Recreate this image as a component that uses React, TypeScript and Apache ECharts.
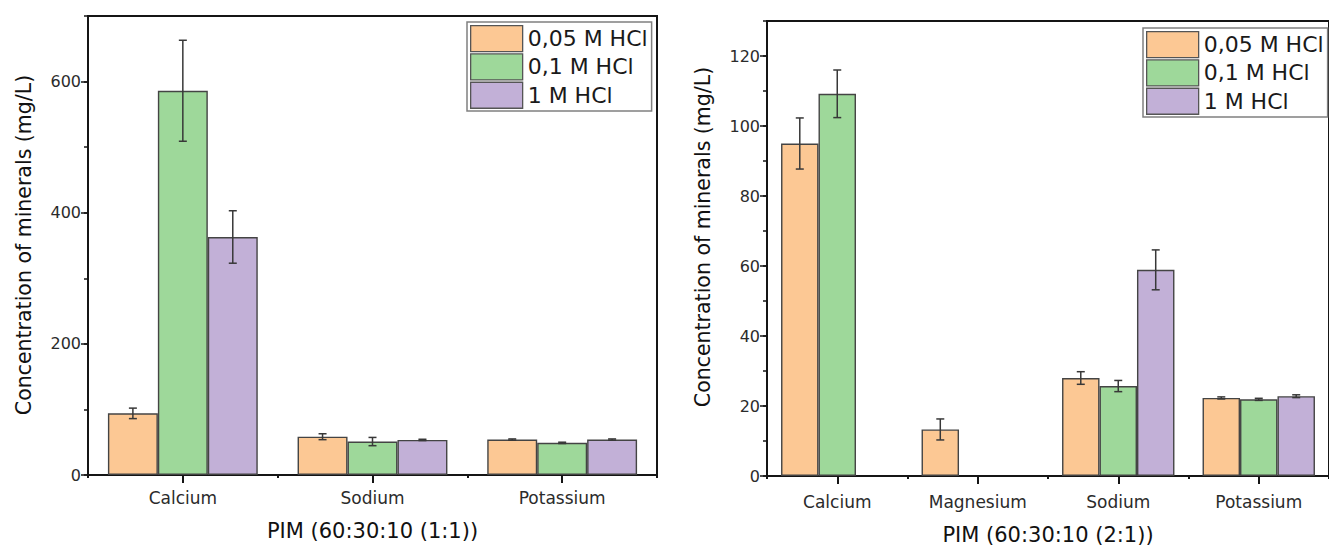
import React, { useEffect, useRef } from 'react';
import * as echarts from 'echarts';

const seriesNames = ['0,05 M HCl', '0,1 M HCl', '1 M HCl'];
const barColors = ['#FCC894', '#9ED89A', '#C2B0D7'];

const leftCategories = ['Calcium', 'Sodium', 'Potassium'];
const left005 = [94, 58.4, 54];
const left005Err = [8, 4.5, 1];
const left01 = [586, 51, 49];
const left01Err = [77, 6.3, 1];
const left1 = [363, 53.5, 54];
const left1Err = [40, 1, 1];

const rightCategories = ['Calcium', 'Magnesium', 'Sodium', 'Potassium'];
const right005 = [95, 13.3, 28, 22.3];
const right005Err = [7.3, 3, 1.8, 0.3];
const right01 = [109.2, null, 25.7, 21.9];
const right01Err = [6.8, null, 1.6, 0.3];
const right1 = [null, null, 58.9, 22.8];
const right1Err = [null, null, 5.7, 0.4];

const leftYTicks = { max: 700, major: 200, minor: 100 };
const rightYTicks = { max: 130, major: 20, minor: 10 };

const leftXTitle = 'PIM (60:30:10 (1:1))';
const rightXTitle = 'PIM (60:30:10 (2:1))';
const yTitle = 'Concentration of minerals (mg/L)';

const FONT = 'DejaVu Sans, Liberation Sans, Arial, sans-serif';
const AXIS_COLOR = '#151515';
const TEXT_COLOR = '#2b2b2b';

function errorSeries(
  name: string,
  k: number,
  vals: (number | null)[],
  errs: (number | null)[],
  gap: number,
  xi: number,
  yi: number
) {
  const data: number[][] = [];
  vals.forEach((v, i) => {
    if (v != null && errs[i] != null) data.push([i, v, errs[i] as number]);
  });
  return {
    type: 'custom',
    name,
    xAxisIndex: xi,
    yAxisIndex: yi,
    z: 5,
    silent: true,
    data,
    renderItem: (params: any, api: any) => {
      const ci = api.value(0);
      const v = api.value(1);
      const e = api.value(2);
      const c = api.coord([ci, v]);
      const band = api.size([1, 0])[0];
      const bw = (band * (1 - gap)) / 3;
      const cx = c[0] + (k - 1) * bw;
      const yt = api.coord([ci, v + e])[1];
      const yb = api.coord([ci, v - e])[1];
      const hw = 4;
      const st = { stroke: '#383838', lineWidth: 1.5 };
      return {
        type: 'group',
        children: [
          { type: 'line', shape: { x1: cx, y1: yt, x2: cx, y2: yb }, style: st },
          { type: 'line', shape: { x1: cx - hw, y1: yt, x2: cx + hw, y2: yt }, style: st },
          { type: 'line', shape: { x1: cx - hw, y1: yb, x2: cx + hw, y2: yb }, style: st },
        ],
      };
    },
  };
}

function barSeries(name: string, k: number, vals: (number | null)[], gap: number, xi: number, yi: number) {
  return {
    type: 'bar',
    name,
    xAxisIndex: xi,
    yAxisIndex: yi,
    barGap: '0%',
    barCategoryGap: `${gap * 100}%`,
    data: vals.map((v) => (v == null ? '-' : v)),
    itemStyle: { color: barColors[k], borderColor: '#444', borderWidth: 1.4 },
  };
}

function xAxes(cats: string[], grid: number, margin: number, title: string, nameGap: number) {
  return [
    {
      type: 'category',
      gridIndex: grid,
      data: cats,
      position: 'bottom',
      name: title,
      nameLocation: 'middle',
      nameGap,
      nameTextStyle: { fontFamily: FONT, fontSize: 21, color: '#111' },
      axisLine: { show: true, lineStyle: { color: AXIS_COLOR, width: 2 } },
      axisTick: { show: true, alignWithLabel: true, length: 8, lineStyle: { color: AXIS_COLOR, width: 2 } },
      axisLabel: { fontFamily: FONT, fontSize: 17, color: TEXT_COLOR, margin },
      splitLine: { show: false },
    },
    {
      type: 'category',
      gridIndex: grid,
      data: cats,
      position: 'bottom',
      offset: 0,
      axisLine: { show: false },
      axisTick: { show: true, alignWithLabel: false, length: 3, lineStyle: { color: AXIS_COLOR, width: 2 } },
      axisLabel: { show: false },
      splitLine: { show: false },
    },
  ];
}

function yAxes(t: { max: number; major: number; minor: number }, grid: number) {
  return [
    {
      type: 'value',
      gridIndex: grid,
      min: 0,
      max: t.max,
      interval: t.major,
      position: 'left',
      axisLine: { show: true, lineStyle: { color: AXIS_COLOR, width: 2 } },
      axisTick: { show: true, inside: false, length: 7, lineStyle: { color: AXIS_COLOR, width: 1.5 } },
      axisLabel: { fontFamily: FONT, fontSize: 16, color: TEXT_COLOR, margin: 7, showMaxLabel: false },
      splitLine: { show: false },
    },
    {
      type: 'value',
      gridIndex: grid,
      min: 0,
      max: t.max,
      interval: t.minor,
      position: 'left',
      offset: 0,
      axisLine: { show: false },
      axisTick: { show: true, inside: false, length: 4, lineStyle: { color: AXIS_COLOR, width: 1.5 } },
      axisLabel: { show: false },
      splitLine: { show: false },
    },
  ];
}

function legend(left: number, top: number) {
  return {
    orient: 'vertical',
    left,
    top,
    data: seriesNames,
    icon: 'rect',
    itemWidth: 52,
    itemHeight: 26,
    itemGap: 1,
    padding: [3, 4, 2, 3],
    borderColor: '#808080',
    borderWidth: 1.5,
    backgroundColor: '#fff',
    itemStyle: { borderColor: '#555', borderWidth: 1.3 },
    textStyle: { fontFamily: FONT, fontSize: 22, color: '#1a1a1a' },
    selectedMode: false,
  };
}

function yTitleText(x: number, y: number) {
  return {
    type: 'text',
    x,
    y,
    rotation: Math.PI / 2,
    style: {
      text: yTitle,
      font: `20.5px ${FONT}`,
      fill: '#111',
      align: 'center',
      verticalAlign: 'middle',
    },
  };
}

export default function App() {
  const ref = useRef<HTMLDivElement>(null);
  useEffect(() => {
    if (!ref.current) return;
    const chart = echarts.init(ref.current, null, { renderer: 'svg' });
    const gapL = 0.21;
    const gapR = 0.2;
    const option: any = {
      animation: false,
      backgroundColor: '#fff',
      grid: [
        { left: 88, top: 16, width: 569, height: 459, show: true, borderColor: AXIS_COLOR, borderWidth: 2, backgroundColor: 'transparent' },
        { left: 767, top: 21, width: 567, height: 459, show: true, borderColor: AXIS_COLOR, borderWidth: 2, backgroundColor: 'transparent' },
      ],
      xAxis: [
        ...xAxes(leftCategories, 0, 14, leftXTitle, 45),
        ...xAxes(rightCategories, 1, 17, rightXTitle, 48),
      ],
      yAxis: [...yAxes(leftYTicks, 0), ...yAxes(rightYTicks, 1)],
      legend: [legend(467, 22), legend(1143, 28)],
      graphic: [yTitleText(24, 245), yTitleText(703, 237)],
      series: [
        barSeries(seriesNames[0], 0, left005, gapL, 0, 0),
        barSeries(seriesNames[1], 1, left01, gapL, 0, 0),
        barSeries(seriesNames[2], 2, left1, gapL, 0, 0),
        errorSeries(seriesNames[0], 0, left005, left005Err, gapL, 0, 0),
        errorSeries(seriesNames[1], 1, left01, left01Err, gapL, 0, 0),
        errorSeries(seriesNames[2], 2, left1, left1Err, gapL, 0, 0),
        barSeries(seriesNames[0], 0, right005, gapR, 2, 2),
        barSeries(seriesNames[1], 1, right01, gapR, 2, 2),
        barSeries(seriesNames[2], 2, right1, gapR, 2, 2),
        errorSeries(seriesNames[0], 0, right005, right005Err, gapR, 2, 2),
        errorSeries(seriesNames[1], 1, right01, right01Err, gapR, 2, 2),
        errorSeries(seriesNames[2], 2, right1, right1Err, gapR, 2, 2),
      ],
    };
    chart.setOption(option);
    return () => chart.dispose();
  }, []);
  return (
    <div
      ref={ref}
      style={{ position: 'absolute', left: 0, top: 0, width: 1329, height: 550, overflow: 'hidden', background: '#fff' }}
    />
  );
}
